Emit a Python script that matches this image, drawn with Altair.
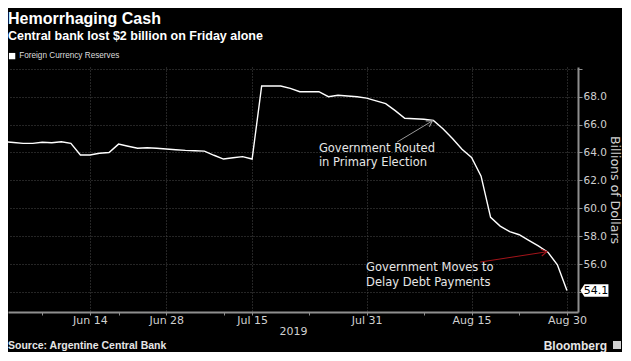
import math
import altair as alt
import pandas as pd

# ---------------- data ----------------
# Argentine business days, Jun 3 - Aug 30 2019 (the chart's x axis skips weekends and holidays)
dates = [
    "2019-06-03", "2019-06-04", "2019-06-05", "2019-06-06", "2019-06-07",
    "2019-06-10", "2019-06-11", "2019-06-12", "2019-06-13", "2019-06-14",
    "2019-06-18", "2019-06-19", "2019-06-21", "2019-06-24", "2019-06-25",
    "2019-06-26", "2019-06-27", "2019-06-28", "2019-07-01", "2019-07-02",
    "2019-07-03", "2019-07-04", "2019-07-05", "2019-07-10", "2019-07-11",
    "2019-07-12", "2019-07-15", "2019-07-16", "2019-07-17", "2019-07-18",
    "2019-07-19", "2019-07-22", "2019-07-23", "2019-07-24", "2019-07-25",
    "2019-07-26", "2019-07-29", "2019-07-30", "2019-07-31", "2019-08-01",
    "2019-08-02", "2019-08-05", "2019-08-06", "2019-08-07", "2019-08-08",
    "2019-08-09", "2019-08-12", "2019-08-13", "2019-08-14", "2019-08-15",
    "2019-08-16", "2019-08-20", "2019-08-21", "2019-08-22", "2019-08-23",
    "2019-08-26", "2019-08-27", "2019-08-28", "2019-08-29", "2019-08-30",
]
reserves = [
    64.77, 64.72, 64.65, 64.65, 64.73, 64.70, 64.77, 64.65, 63.82, 63.82,
    63.94, 64.00, 64.60, 64.45, 64.30, 64.34, 64.30, 64.25, 64.20, 64.15,
    64.12, 64.10, 63.80, 63.53, 63.62, 63.70, 63.53, 68.77, 68.77, 68.77,
    68.60, 68.36, 68.36, 68.36, 68.00, 68.10, 68.05, 68.00, 67.90, 67.70,
    67.50, 67.00, 66.45, 66.42, 66.38, 66.30, 65.70, 65.00, 64.23, 63.65,
    62.30, 59.35, 58.72, 58.33, 58.10, 57.70, 57.30, 56.85, 55.95, 54.10,
]
series_name = "Foreign Currency Reserves"

major_tick_dates = ["2019-06-14", "2019-06-28", "2019-07-15", "2019-07-31", "2019-08-15", "2019-08-30"]
major_tick_labels = ["Jun 14", "Jun 28", "Jul 15", "Jul 31", "Aug 15", "Aug 30"]
minor_tick_dates = ["2019-06-07", "2019-06-21", "2019-07-10", "2019-07-23", "2019-08-08", "2019-08-23"]
y_tick_values = [54, 56, 58, 60, 62, 64, 66, 68, 70]
y_hidden_labels = [54, 70]

# annotations (positions in trading-day units / billions of dollars)
annot_texts = ["Government Routed\nin Primary Election", "Government Moves to\nDelay Debt Payments"]
annot_text_pos = [33.0, 37.95]
annot_text_val = [64.25, 55.71]
arrow_tail_pos = [41.2, 49.9]
arrow_tail_val = [64.75, 56.14]
arrow_head_pos = [44.9, 56.9]
arrow_head_val = [66.27, 56.88]
arrow_colors = ["#9a9a9a", "#a3141a"]

title_text = "Hemorrhaging Cash"
subtitle_text = "Central bank lost $2 billion on Friday alone"
source_text = "Source: Argentine Central Bank"
brand_text = "Bloomberg"
x_axis_title = "2019"
y_axis_title = "Billions of Dollars"

# ---------------- layout / styles ----------------
W, H = 570, 245
X_DOMAIN = [0.41, 60.16]
Y_DOMAIN = [52.56, 70.13]
GRID = "#4a4a4a"
AXIS = "#8f8f8f"
LABEL = "#d0d0d0"

pos_of = {d: i for i, d in enumerate(dates)}
df = pd.DataFrame({"pos": list(range(len(dates))), "value": reserves,
                   "date": dates, "series": series_name})
major_pos = [pos_of[d] for d in major_tick_dates]
minor_pos = [pos_of[d] for d in minor_tick_dates]

label_expr = ""
for p, lab in zip(major_pos, major_tick_labels):
    label_expr += f"datum.value == {p} ? '{lab}' : "
label_expr += "''"
major_list = "[" + ",".join(str(p) for p in major_pos) + "]"

px_x = W / (X_DOMAIN[1] - X_DOMAIN[0])
px_y = H / (Y_DOMAIN[1] - Y_DOMAIN[0])
angles = []
for tx, ty, hx, hy in zip(arrow_tail_pos, arrow_tail_val, arrow_head_pos, arrow_head_val):
    a = math.degrees(math.atan2(-(hy - ty) * px_y, (hx - tx) * px_x))
    angles.append(a % 360)

df_arrows = pd.DataFrame({"pos": arrow_tail_pos, "value": arrow_tail_val,
                          "pos2": arrow_head_pos, "value2": arrow_head_val,
                          "c": arrow_colors, "ang": angles})
df_text = pd.DataFrame({"pos": annot_text_pos, "value": annot_text_val, "t": annot_texts})

x_scale = alt.Scale(domain=X_DOMAIN, nice=False, zero=False)
y_scale = alt.Scale(domain=Y_DOMAIN, nice=False, zero=False)

x_axis = alt.Axis(
    values=major_pos + minor_pos, labelExpr=label_expr, labelFlush=False, labelOverlap=False,
    grid=True, gridColor=GRID, gridDash=[1, 2], gridWidth=1,
    gridOpacity=alt.condition(f"indexof({major_list}, datum.value) >= 0", alt.value(1), alt.value(0)),
    domainColor=AXIS, domainWidth=2, tickColor=AXIS, tickSize=3, tickWidth=1,
    labelColor=LABEL, labelFont="DejaVu Sans", labelFontSize=11, labelPadding=-1,
    title=x_axis_title, titleColor=LABEL, titleFont="DejaVu Sans", titleFontSize=11,
    titleFontWeight="normal", titlePadding=0,
)
hidden = " || ".join(f"datum.value == {v}" for v in y_hidden_labels)
y_axis = alt.Axis(
    orient="right", values=y_tick_values,
    labelExpr=f"({hidden}) ? '' : format(datum.value, '.1f')",
    grid=True, gridColor=GRID, gridDash=[1, 2], gridWidth=1,
    domainColor=AXIS, domainWidth=2, tickColor=AXIS, tickSize=4, tickWidth=1,
    labelColor=LABEL, labelFont="DejaVu Sans", labelFontSize=10.5, labelPadding=1,
    title=y_axis_title, titleAngle=90, titleColor=LABEL, titleFont="DejaVu Sans",
    titleFontSize=12.5, titleFontWeight="normal", titlePadding=1,
)

X = alt.X("pos:Q", scale=x_scale, axis=x_axis)
Y = alt.Y("value:Q", scale=y_scale, axis=y_axis)

line = alt.Chart(df).mark_line(strokeWidth=1.4, clip=True).encode(
    x=X, y=Y,
    color=alt.Color("series:N", scale=alt.Scale(range=["white"]),
                    legend=alt.Legend(title=None, orient="none", legendX=0, legendY=-15,
                                      symbolType="square", symbolSize=40,
                                      symbolFillColor="white", symbolStrokeColor="white",
                                      symbolStrokeWidth=0, labelColor="#dddddd",
                                      labelFont="Liberation Sans", labelFontSize=8.2,
                                      labelOffset=3, padding=0)),
)

arrows = alt.Chart(df_arrows).mark_rule(strokeWidth=1).encode(
    x=X, y=Y, x2="pos2:Q", y2="value2:Q", stroke=alt.Stroke("c:N", scale=None))
heads = alt.Chart(df_arrows).mark_point(shape="M-1,-0.6L0,0L-1,0.6", filled=False, size=130,
                                        strokeWidth=1.1, opacity=1).encode(
    x=alt.X("pos2:Q", scale=x_scale, axis=x_axis), y=alt.Y("value2:Q", scale=y_scale, axis=y_axis),
    angle=alt.Angle("ang:Q", scale=None), stroke=alt.Stroke("c:N", scale=None))
notes = alt.Chart(df_text).mark_text(align="left", baseline="middle", lineBreak="\n",
                                     font="DejaVu Sans", fontSize=11.5, lineHeight=14.5,
                                     color="#e6e6e6").encode(x=X, y=Y, text="t:N")

last = df.iloc[[-1]]
tag = alt.Chart(last).mark_point(shape="M-1.45,0L-1.05,-0.62L1.35,-0.62L1.35,0.62L-1.05,0.62Z",
                                 size=400, filled=True, color="white", opacity=1,
                                 strokeWidth=0, xOffset=28).encode(x=X, y=Y)
tag_text = alt.Chart(last).mark_text(xOffset=29, align="center", baseline="middle", color="black",
                                     font="DejaVu Sans", fontSize=11).encode(
    x=X, y=Y, text=alt.Text("value:Q", format=".1f"))

footer = pd.DataFrame({"t": [source_text]})
src = alt.Chart(footer).mark_text(align="left", baseline="middle", font="Liberation Sans",
                                  fontWeight="bold", fontSize=10.5, color="#e6e6e6").encode(
    x=alt.value(0), y=alt.value(279), text="t:N")
brand = alt.Chart(pd.DataFrame({"t": [brand_text]})).mark_text(
    align="right", baseline="middle", font="Liberation Sans", fontWeight="bold",
    fontSize=12, color="#e6e6e6").encode(x=alt.value(599), y=alt.value(279), text="t:N")
icon = alt.Chart(pd.DataFrame({"t": [brand_text]})).mark_point(
    shape="square", filled=True, size=64, color="#d0d0d0", opacity=1).encode(
    x=alt.value(609), y=alt.value(278))

chart = alt.layer(line, arrows, heads, notes, tag, tag_text, src, brand, icon).properties(
    width=W, height=H,
    title=alt.TitleParams(text=title_text, subtitle=subtitle_text, anchor="start", frame="group",
                          font="Liberation Sans", fontSize=16, fontWeight="bold", color="white",
                          subtitleFont="Liberation Sans", subtitleFontSize=12.5,
                          subtitleFontWeight="bold", subtitleColor="white",
                          subtitlePadding=3, offset=10),
    autosize=alt.AutoSizeParams(type="none"),
    padding={"left": 0, "top": 59, "right": 44, "bottom": 40},
).configure(background="black").configure_view(stroke=None)

chart.save("out.html", embed_options={"renderer": "svg", "actions": False})
